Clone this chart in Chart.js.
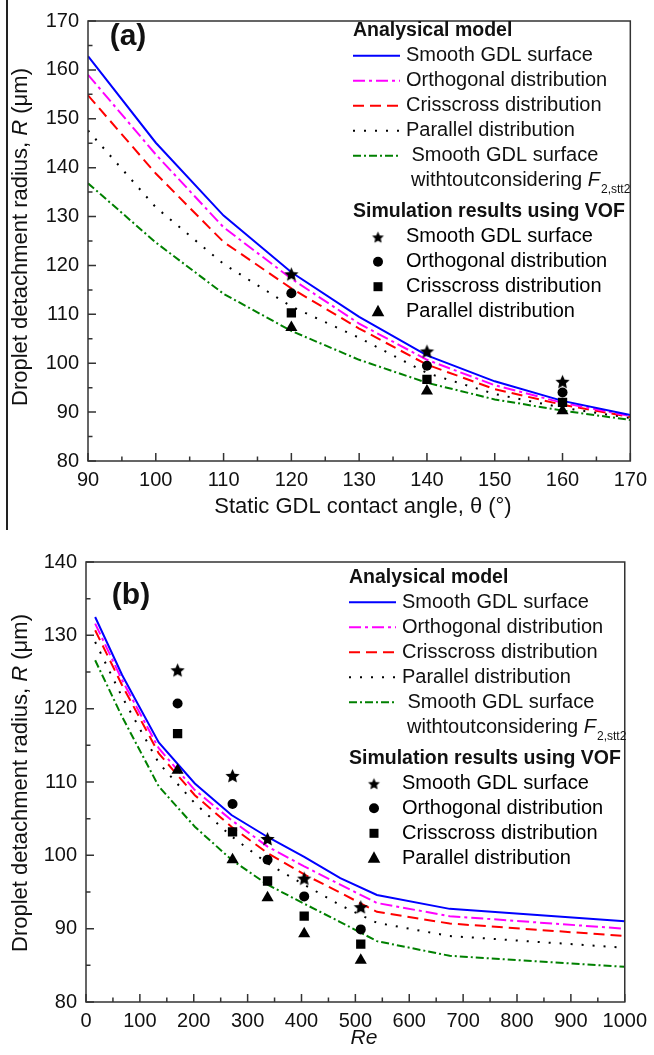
<!DOCTYPE html>
<html lang="en">
  <head>
    <meta charset="utf-8" />
    <title>Droplet detachment radius</title>
    <style>
      * {
        margin: 0;
        padding: 0;
      }
      body {
        width: 654px;
        height: 1055px;
        background: #fff;
        position: relative;
        overflow: hidden;
      }
      #chartA {
        position: absolute;
        left: 0;
        top: 0;
      }
      #chartB {
        position: absolute;
        left: 0;
        top: 530px;
      }
      .edge {
        position: absolute;
        left: 6px;
        top: 0;
        width: 2px;
        height: 530px;
        background: #222;
      }
    </style>
  </head>
  <body>
    <canvas id="chartA" width="654" height="530"></canvas>
    <canvas id="chartB" width="654" height="525"></canvas>
    <div class="edge"></div>

    <script src="https://cdn.jsdelivr.net/npm/chart.js"></script>

    <script>
      // (a) radius vs static contact angle
      const angles = [90, 100, 110, 120, 130, 140, 150, 160, 170];
      const smoothA = [162.8, 145.1, 130.2, 118.6, 109.5, 101.6, 96.3, 92.3, 89.4];
      const orthoA = [159.0, 142.7, 127.8, 117.3, 108.1, 100.7, 95.5, 91.9, 89.2];
      const crissA = [154.8, 138.8, 124.8, 115.3, 107.1, 99.7, 94.7, 91.5, 89.0];
      const parallelA = [147.6, 131.9, 120.3, 111.6, 105.2, 98.0, 93.7, 90.9, 88.8];
      const noF2A = [136.8, 124.7, 114.2, 106.6, 100.7, 96.0, 92.6, 90.3, 88.4];

      const simAngles = [120, 140, 160];
      const simSmoothA = [118.3, 102.5, 96.3];
      const simOrthoA = [114.3, 99.5, 94.0];
      const simCrissA = [110.3, 96.7, 92.0];
      const simParallelA = [107.3, 94.3, 90.3];

      // (b) radius vs Reynolds number
      const reModel = [17, 67, 135, 202, 270, 337, 405, 472, 540, 675, 1000];
      const smoothB = [132.5, 124.6, 115.4, 109.8, 105.5, 102.5, 99.8, 96.9, 94.6, 92.7, 91.0];
      const orthoB = [131.6, 123.9, 114.6, 108.9, 104.8, 101.2, 98.5, 96.0, 93.5, 91.7, 90.0];
      const crissB = [130.7, 123.2, 113.9, 108.2, 103.9, 100.3, 97.4, 94.9, 92.3, 90.7, 89.0];
      const parallelB = [129.1, 121.6, 112.6, 107.1, 102.6, 98.9, 96.0, 93.2, 90.8, 89.0, 87.4];
      const noF2B = [126.6, 118.9, 109.4, 103.9, 99.4, 96.0, 93.4, 90.9, 88.3, 86.3, 84.8];

      const reSim = [170, 272, 337, 405, 510];
      const simSmoothB = [125.3, 110.9, 102.3, 96.9, 93.0];
      const simOrthoB = [120.7, 107.0, 99.4, 94.4, 89.9];
      const simCrissB = [116.6, 103.2, 96.5, 91.7, 87.9];
      const simParallelB = [111.6, 99.4, 94.2, 89.3, 85.7];

      const modelLabels = [
        "Smooth GDL surface",
        "Orthogonal distribution",
        "Crisscross distribution",
        "Parallel distribution",
        "Smooth GDL surface",
      ];
      const simLabels = [
        "Smooth GDL surface",
        "Orthogonal distribution",
        "Crisscross distribution",
        "Parallel distribution",
      ];

      const FONT = "'Liberation Sans', Arial, sans-serif";
      const lineStyles = [
        { color: "#0000ff", dash: [] },
        { color: "#ff00ff", dash: [12, 4, 3, 4] },
        { color: "#ff0000", dash: [11, 6] },
        { color: "#000000", dash: [2, 9] },
        { color: "#008000", dash: [8, 3, 2, 3] },
      ];

      // filled five-point star, used as a point style
      function starImage(r) {
        const c = document.createElement("canvas");
        const s = Math.ceil(r * 2 + 2);
        c.width = s;
        c.height = s;
        const g = c.getContext("2d");
        g.fillStyle = "#000";
        g.beginPath();
        for (let i = 0; i < 10; i++) {
          const rr = i % 2 ? r * 0.47 : r;
          const a = -Math.PI / 2 + (i * Math.PI) / 5;
          g.lineTo(s / 2 + rr * Math.cos(a), s / 2 + 1 + rr * Math.sin(a));
        }
        g.closePath();
        g.fill();
        return c;
      }
      const starBig = starImage(7.5);
      const starSmall = starImage(6.2);
      const markers = [
        { style: starBig, radius: 7.5 },
        { style: "circle", radius: 5 },
        { style: "rect", radius: 6.6 },
        { style: "triangle", radius: 7 },
      ];

      function toXY(xs, ys) {
        return xs.map((x, i) => ({ x: x, y: ys[i] }));
      }

      function buildDatasets(xs, model, simX, sims) {
        const sets = [];
        model.forEach((ys, i) => {
          sets.push({
            label: modelLabels[i],
            data: toXY(xs, ys),
            showLine: true,
            borderColor: lineStyles[i].color,
            borderDash: lineStyles[i].dash,
            borderWidth: 2,
            pointRadius: 0,
            tension: 0,
            order: 2,
          });
        });
        sims.forEach((ys, i) => {
          sets.push({
            label: simLabels[i],
            data: toXY(simX, ys),
            showLine: false,
            pointStyle: markers[i].style,
            pointRadius: markers[i].radius,
            backgroundColor: "#000",
            borderColor: "#000",
            borderWidth: 0,
            order: 1,
          });
        });
        return sets;
      }

      // draw a row of text pieces with different fonts, centred on cx
      function drawRuns(ctx, runs, cx, cy) {
        let total = 0;
        runs.forEach((r) => {
          ctx.font = r.font;
          total += ctx.measureText(r.text).width;
        });
        let x = cx - total / 2;
        runs.forEach((r) => {
          ctx.font = r.font;
          ctx.fillText(r.text, x, cy + (r.dy || 0));
          x += ctx.measureText(r.text).width;
        });
      }

      function drawMarker(ctx, i, x, y) {
        ctx.fillStyle = "#000";
        if (i === 0) {
          ctx.drawImage(starSmall, x - starSmall.width / 2, y - starSmall.height / 2);
        } else if (i === 1) {
          ctx.beginPath();
          ctx.arc(x, y, 5, 0, Math.PI * 2);
          ctx.fill();
        } else if (i === 2) {
          ctx.fillRect(x - 4.5, y - 4.5, 9, 9);
        } else {
          ctx.beginPath();
          ctx.moveTo(x, y - 7);
          ctx.lineTo(x + 6.3, y + 4.5);
          ctx.lineTo(x - 6.3, y + 4.5);
          ctx.closePath();
          ctx.fill();
        }
      }

      const decorPlugin = {
        id: "decor",
        afterDatasetsDraw(chart, args, opts) {
          const { ctx, chartArea: a, scales } = chart;
          ctx.save();
          // frame
          ctx.strokeStyle = "#333";
          ctx.lineWidth = 1.5;
          ctx.setLineDash([]);
          ctx.strokeRect(a.left, a.top, a.right - a.left, a.bottom - a.top);
          // inward ticks
          ctx.beginPath();
          const xs = scales.x;
          for (let v = xs.min; v <= xs.max + 1e-6; v += opts.xMinor) {
            const px = xs.getPixelForValue(v);
            const len = Math.abs(v % opts.xMajor) < 1e-6 ? 8 : 4.5;
            ctx.moveTo(px, a.bottom);
            ctx.lineTo(px, a.bottom - len);
          }
          const ys = scales.y;
          for (let v = ys.min; v <= ys.max + 1e-6; v += opts.yMinor) {
            const py = ys.getPixelForValue(v);
            const len = Math.abs(v % opts.yMajor) < 1e-6 ? 8 : 4.5;
            ctx.moveTo(a.left, py);
            ctx.lineTo(a.left + len, py);
          }
          ctx.stroke();

          ctx.fillStyle = "#111";
          ctx.textBaseline = "middle";
          ctx.textAlign = "left";

          // panel label
          ctx.font = "bold 30px " + FONT;
          ctx.textAlign = "center";
          ctx.fillText(opts.panel, opts.panelX, opts.panelY);

          // x title
          ctx.textAlign = "left";
          drawRuns(ctx, opts.xTitle, opts.xTitleX, opts.xTitleY);

          // y title, rotated
          ctx.save();
          ctx.translate(opts.yTitleX, opts.yTitleY);
          ctx.rotate(-Math.PI / 2);
          drawRuns(ctx, [
            { text: "Droplet detachment radius, ", font: "22px " + FONT },
            { text: "R", font: "italic 22px " + FONT },
            { text: " (\u03bcm)", font: "22px " + FONT },
          ], 0, 0);
          ctx.restore();

          // legend
          const lx = opts.legendX;
          let y = opts.legendY;
          ctx.font = "bold 19.5px " + FONT;
          ctx.fillText("Analysical model", lx, y);
          ctx.lineWidth = 2;
          for (let i = 0; i < modelLabels.length; i++) {
            y += 25;
            ctx.strokeStyle = lineStyles[i].color;
            ctx.setLineDash(lineStyles[i].dash);
            ctx.beginPath();
            ctx.moveTo(lx, y);
            ctx.lineTo(lx + 47, y);
            ctx.stroke();
            ctx.font = "20px " + FONT;
            ctx.fillText(modelLabels[i], lx + (i === 4 ? 58.5 : 53), y);
          }
          ctx.setLineDash([]);
          y += 25;
          ctx.font = "20px " + FONT;
          const w1 = "withtoutconsidering ";
          ctx.fillText(w1, lx + 58, y);
          let fx = lx + 58 + ctx.measureText(w1).width;
          ctx.font = "italic 20px " + FONT;
          ctx.fillText("F", fx, y);
          fx += ctx.measureText("F").width + 1;
          ctx.font = "12px " + FONT;
          ctx.fillText("2,stt2", fx, y + 9);

          y += 31;
          ctx.font = "bold 19.5px " + FONT;
          ctx.fillText("Simulation results using VOF", lx, y);
          for (let i = 0; i < simLabels.length; i++) {
            y += 25;
            drawMarker(ctx, i, lx + 25, y);
            ctx.font = "20px " + FONT;
            ctx.fillText(simLabels[i], lx + 53, y);
          }
          ctx.restore();
        },
      };

      function makeConfig(datasets, sc, deco) {
        const tickFont = { family: FONT, size: 20 };
        return {
          type: "scatter",
          data: { datasets: datasets },
          options: {
            responsive: false,
            animation: false,
            layout: { padding: sc.padding },
            plugins: {
              legend: { display: false },
              tooltip: { enabled: false },
              decor: deco,
            },
            scales: {
              x: {
                type: "linear",
                min: sc.xMin,
                max: sc.xMax,
                grid: { display: false, drawTicks: false },
                border: { display: false },
                ticks: {
                  stepSize: sc.xStep,
                  color: "#111",
                  font: tickFont,
                  padding: 7,
                  maxRotation: 0,
                  callback: (v) => String(v),
                },
                afterFit: (scale) => {
                  scale.height = sc.xHeight;
                },
              },
              y: {
                type: "linear",
                min: sc.yMin,
                max: sc.yMax,
                grid: { display: false, drawTicks: false },
                border: { display: false },
                ticks: { stepSize: 10, color: "#111", font: tickFont, padding: 9 },
                afterFit: (scale) => {
                  scale.width = sc.yWidth;
                },
              },
            },
          },
          plugins: [decorPlugin],
        };
      }

      const chartA = new Chart(
        document.getElementById("chartA"),
        makeConfig(
          buildDatasets(angles, [smoothA, orthoA, crissA, parallelA, noF2A], simAngles, [
            simSmoothA,
            simOrthoA,
            simCrissA,
            simParallelA,
          ]),
          {
            padding: { top: 16, right: 19, left: 0, bottom: 0 },
            xMin: 90, xMax: 170, xStep: 10,
            yMin: 80, yMax: 170,
            xHeight: 69, yWidth: 88,
          },
          {
            xMinor: 5, xMajor: 10, yMinor: 5, yMajor: 10,
            panel: "(a)", panelX: 128, panelY: 37,
            xTitle: [{ text: "Static GDL contact angle, \u03b8 (\u00b0)", font: "22px " + FONT }],
            xTitleX: 363, xTitleY: 507,
            yTitleX: 21, yTitleY: 237,
            legendX: 353, legendY: 30.7,
          }
        )
      );

      const chartB = new Chart(
        document.getElementById("chartB"),
        makeConfig(
          buildDatasets(reModel, [smoothB, orthoB, crissB, parallelB, noF2B], reSim, [
            simSmoothB,
            simOrthoB,
            simCrissB,
            simParallelB,
          ]),
          {
            padding: { top: 32, right: 25, left: 0, bottom: 0 },
            xMin: 0, xMax: 1000, xStep: 100,
            yMin: 80, yMax: 140,
            xHeight: 53, yWidth: 86,
          },
          {
            xMinor: 50, xMajor: 100, yMinor: 5, yMajor: 10,
            panel: "(b)", panelX: 131, panelY: 66,
            xTitle: [{ text: "Re", font: "italic 21px " + FONT }],
            xTitleX: 364, xTitleY: 508,
            yTitleX: 21, yTitleY: 253,
            legendX: 349, legendY: 47.3,
          }
        )
      );
    </script>
  </body>
</html>
